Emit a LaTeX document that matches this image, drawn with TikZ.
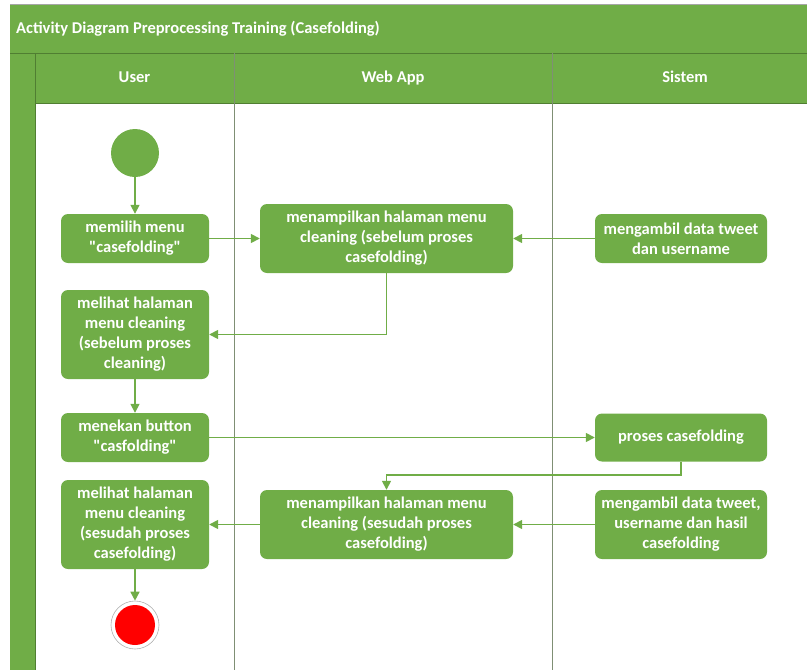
\documentclass[tikz,border=0pt]{standalone}
\usepackage{fontspec}
\setmainfont{Carlito}[Ligatures=TeXOff]
\usetikzlibrary{arrows.meta,positioning}
\definecolor{og}{HTML}{70AD47}
\definecolor{ogd}{HTML}{507E32}
\definecolor{lane}{HTML}{7F8F74}
\tikzset{
  act/.style={rectangle,rounded corners=7pt,fill=og,draw=none,text=white,font=\bfseries\fontsize{16.5}{20}\selectfont,align=center,inner sep=0pt},
  flow/.style={draw=og,line width=1.6pt,-{Triangle[width=9pt,length=9pt]}},
  hdr/.style={text=white,font=\bfseries\fontsize{16.5}{20}\selectfont,text height=11pt,text depth=3pt,inner sep=0pt}
}
\begin{document}
\begin{tikzpicture}[x=1pt,y=-1pt]
\useasboundingbox (0,0) rectangle (807,670);
% frame
\fill[og] (10,4) rectangle (807,103);
\fill[og] (10,103) rectangle (35,670);
\draw[gray!70,line width=0.8pt] (10,4) -- (807,4);
\draw[ogd,line width=0.8pt] (10,53) -- (807,53);
\draw[ogd,line width=0.8pt] (35,53) -- (35,670);
\draw[ogd,line width=0.8pt] (35,103) -- (807,103);
\draw[lane,line width=0.8pt] (234,53) -- (234,670);
\draw[lane,line width=0.8pt] (552,53) -- (552,670);
\node[hdr,anchor=west] (title) at (16,29) {Activity Diagram Preprocessing Training (Casefolding)};
\node[hdr] (huser) at (134.5,78) {User};
\node[hdr] (hweb) at (393,78) {Web App};
\node[hdr] (hsis) at (685,78) {Sistem};
% nodes
\node[circle,fill=og,minimum size=48pt,inner sep=0pt] (start) at (135,153) {};
\node[act,minimum width=148pt,minimum height=49pt] (b1) at (135,238.5) {memilih menu\\"casefolding"};
\node[act,minimum width=253pt,minimum height=69pt] (b2) at (386.5,238.5) {menampilkan halaman menu\\cleaning (sebelum proses\\casefolding)};
\node[act,minimum width=172pt,minimum height=49pt] (b3) at (681,238.5) {mengambil data tweet\\dan username};
\node[act,minimum width=148pt,minimum height=89pt] (b4) at (135,334.5) {melihat halaman\\menu cleaning\\(sebelum proses\\cleaning)};
\node[act,minimum width=148pt,minimum height=49pt] (b5) at (135,437.5) {menekan button\\"casfolding"};
\node[act,minimum width=172pt,minimum height=48pt] (b6) at (681,437.5) {proses casefolding};
\node[act,minimum width=148pt,minimum height=89pt] (b7) at (135,524.5) {melihat halaman\\menu cleaning\\(sesudah proses\\casefolding)};
\node[act,minimum width=253pt,minimum height=69pt] (b8) at (386.5,524.5) {menampilkan halaman menu\\cleaning (sesudah proses\\casefolding)};
\node[act,minimum width=172pt,minimum height=69pt] (b9) at (681,524.5) {mengambil data tweet,\\username dan hasil\\casefolding};
\node[circle,draw=gray!60,line width=0.6pt,fill=white,minimum size=48pt,inner sep=0pt] (endo) at (135,625) {};
\node[circle,fill=red,minimum size=40pt,inner sep=0pt] (endi) at (135,625) {};
\coordinate (c1) at (386.5,334.5);
\coordinate (c2) at (681,475);
\coordinate (c3) at (386.5,475);
% flows
\draw[flow] (start) -- (b1);
\draw[flow] (b1) -- (b2);
\draw[flow] (b3) -- (b2);
\draw[flow] (b2.south) -- (c1) -- (b4.east);
\draw[flow] (b4) -- (b5);
\draw[flow] (b5) -- (b6);
\draw[flow] (b6.south) -- (c2) -- (c3) -- (b8.north);
\draw[flow] (b9) -- (b8);
\draw[flow] (b8) -- (b7);
\draw[flow] (b7) -- (endo);
\end{tikzpicture}
\end{document}
